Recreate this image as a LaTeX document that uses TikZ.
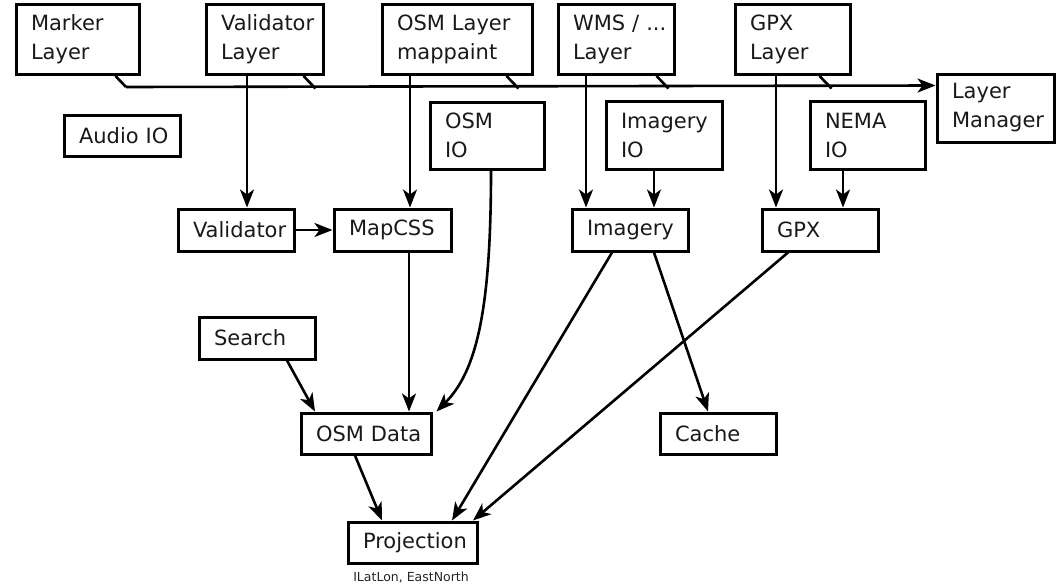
\documentclass[tikz,border=0pt]{standalone}
\usepackage{fontspec}
\setmainfont{DejaVu Sans}
\usetikzlibrary{arrows.meta}
\begin{document}
\begin{tikzpicture}[x=1pt,y=-1pt,
  box/.style={draw, line width=3pt, rectangle, inner xsep=15pt, inner ysep=0pt, align=left, font=\fontsize{21}{29}\selectfont, text=black!90},
  arr/.style={line width=2.6pt, -{Stealth[length=18pt,width=14pt,inset=5pt]}},
  ln/.style={line width=2.6pt}]
\useasboundingbox (0,0) rectangle (1064,586);

% top row
\node[box, minimum width=123pt, text width=93pt, minimum height=70pt] (marker) at (77.5,39.5) {Marker\\Layer};
\node[box, minimum width=117pt, text width=87pt, minimum height=70pt] (vallayer) at (264.5,39.5) {Validator\\Layer};
\node[box, minimum width=150pt, text width=120pt, minimum height=70pt] (osmlayer) at (457,39.5) {OSM~Layer\\mappaint};
\node[box, minimum width=116pt, text width=86pt, minimum height=70pt] (wms) at (616,39.5) {WMS~/~...\\Layer};
\node[box, minimum width=115pt, text width=85pt, minimum height=70pt] (gpxlayer) at (792.5,39.5) {GPX\\Layer};
\node[box, minimum width=117pt, text width=87pt, minimum height=68pt] (layerman) at (995.5,108) {Layer\\Manager};

% second row
\node[box, minimum width=116pt, text width=86pt, minimum height=41pt] (audio) at (122,135.5) {Audio~IO};
\node[box, minimum width=114pt, text width=84pt, minimum height=67pt] (osmio) at (487,135.5) {OSM\\IO};
\node[box, minimum width=116pt, text width=86pt, minimum height=68pt] (imageryio) at (664,135.5) {Imagery\\IO};
\node[box, minimum width=115pt, text width=85pt, minimum height=68pt] (nemaio) at (867.5,135.5) {NEMA\\IO};

% third row
\node[box, minimum width=116pt, text width=86pt, minimum height=42pt] (validator) at (236,230) {Validator};
\node[box, minimum width=117pt, text width=87pt, minimum height=42pt] (mapcss) at (392.5,230) {MapCSS};
\node[box, minimum width=116pt, text width=86pt, minimum height=42pt] (imagery) at (630,230) {Imagery};
\node[box, minimum width=116pt, text width=86pt, minimum height=42pt] (gpx) at (820,230) {GPX};

% lower
\node[box, minimum width=116pt, text width=86pt, minimum height=42pt] (search) at (257,338) {Search};
\node[box, minimum width=130pt, text width=100pt, minimum height=41pt] (osmdata) at (366,433.5) {OSM~Data};
\node[box, minimum width=116pt, text width=86pt, minimum height=41pt] (cache) at (718,433.5) {Cache};
\node[box, minimum width=129pt, text width=99pt, minimum height=41pt] (projection) at (412.5,542.5) {Projection};
\node[font=\fontsize{12.5}{14}\selectfont, text=black!85, inner sep=0pt] (plabel) at (411,577) {ILatLon, EastNorth};

% layer bus
\coordinate (busL) at (126,87);
\draw[arr] (busL) -- ([yshift=-13pt]layerman.north west);
\draw[ln] ([xshift=-25pt]marker.south east) -- (busL);
\draw[ln] ([xshift=-21pt]vallayer.south east) -- ++(12,12.5);
\draw[ln] ([xshift=-27pt]osmlayer.south east) -- ++(12,12.5);
\draw[ln] ([xshift=-19pt]wms.south east) -- ++(12,12.5);
\draw[ln] ([xshift=-32pt]gpxlayer.south east) -- ++(12,12.5);

% vertical arrows
\coordinate (a1) at ([xshift=-17.5pt]vallayer.south);
\draw[arr] (a1) -- (a1 |- validator.north);
\coordinate (a2) at ([xshift=-47pt]osmlayer.south);
\draw[arr] (a2) -- (a2 |- mapcss.north);
\coordinate (a3) at ([xshift=-30pt]wms.south);
\draw[arr] (a3) -- (a3 |- imagery.north);
\coordinate (a4) at ([xshift=-10pt]imageryio.south);
\draw[arr] (a4) -- (a4 |- imagery.north);
\coordinate (a5) at ([xshift=-16.5pt]gpxlayer.south);
\draw[arr] (a5) -- (a5 |- gpx.north);
\coordinate (a6) at ([xshift=-24.5pt]nemaio.south);
\draw[arr] (a6) -- (a6 |- gpx.north);
\draw[arr] (validator.east) -- (mapcss.west);
\coordinate (a7) at ([xshift=16.5pt]mapcss.south);
\draw[arr] (a7) -- (a7 |- osmdata.north);

% curves and diagonals
\draw[arr] ([xshift=4pt]osmio.south) .. controls +(0,140) and +(40,-40) .. ([xshift=4pt]osmdata.north east);
\draw[arr] ([xshift=30pt]search.south) -- ([xshift=-51pt]osmdata.north);
\draw[arr] ([xshift=-11pt]osmdata.south) -- ([xshift=-30.5pt]projection.north);
\draw[arr] ([xshift=-18pt]imagery.south) -- ([xshift=39.5pt]projection.north);
\draw[arr] ([xshift=24pt]imagery.south) -- ([xshift=-10pt]cache.north);
\draw[arr] ([xshift=-32pt]gpx.south) -- ([xshift=60.5pt]projection.north);
\end{tikzpicture}
\end{document}
